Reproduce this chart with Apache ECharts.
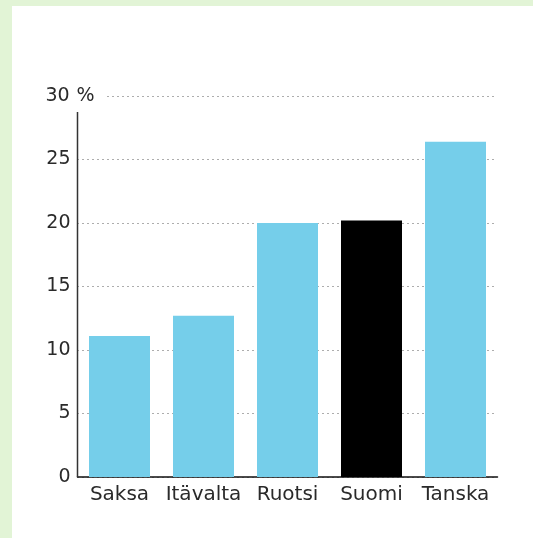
<!DOCTYPE html>
<html>
<head>
<meta charset="utf-8">
<script src="https://cdn.jsdelivr.net/npm/echarts@6/dist/echarts.min.js"></script>
<style>
  html, body { margin: 0; padding: 0; background: #E2F4D6; }
  #wrap { position: absolute; left: 12px; top: 6px; right: 0; bottom: 0; background: #ffffff; }
  #chart { position: absolute; left: 0; top: 0; width: 533px; height: 538px; }
</style>
</head>
<body>
<div id="wrap"></div>
<div id="chart"></div>
<script>
// Countries and their shares (%)
const countries = ['Saksa', 'Itävalta', 'Ruotsi', 'Suomi', 'Tanska'];
const shares = [11.1, 12.7, 20.0, 20.2, 26.4];
const highlight = 'Suomi';
const yTicks = [0, 5, 10, 15, 20, 25, 30];

const BLUE = '#75CEEA';
const INK = '#2a2a2a';
const FONT = '"DejaVu Sans", "Noto Sans", sans-serif';
const GRID = { left: 77.5, right: 35.5, top: 96, bottom: 61 };

const chart = echarts.init(document.getElementById('chart'), null, { renderer: 'canvas' });

chart.setOption({
  backgroundColor: 'transparent',
  animation: false,
  grid: GRID,
  xAxis: {
    type: 'category',
    data: countries,
    axisLine: { show: true, lineStyle: { color: '#111', width: 1.5 } },
    axisTick: { show: false },
    axisLabel: { interval: 0, color: INK, fontFamily: FONT, fontSize: 20, margin: 8 }
  },
  yAxis: {
    type: 'value',
    min: yTicks[0],
    max: yTicks[yTicks.length - 1],
    interval: 5,
    axisLine: { show: false },
    axisTick: { show: false },
    splitLine: { show: true, lineStyle: { color: '#5a5a5a', width: 1, type: [1, 4] } },
    axisLabel: {
      align: 'left',
      margin: 33,
      color: INK,
      fontFamily: FONT,
      fontSize: 19,
      formatter: v => v === 30 ? '{n|30}{p| %}' : '{n|' + v + '}',
      rich: {
        n: { width: 26, align: 'right', fontFamily: FONT, fontSize: 19, color: INK },
        p: { fontFamily: FONT, fontSize: 19, color: INK, backgroundColor: '#fff', padding: [2, 11, 2, 0] }
      }
    }
  },
  series: [{
    type: 'bar',
    barWidth: 61,
    data: countries.map((c, i) => ({
      value: shares[i],
      itemStyle: { color: c === highlight ? '#000000' : BLUE }
    }))
  }]
});

// Vertical axis line, stopping short of the top label
const yBottom = chart.convertToPixel({ yAxisIndex: 0 }, yTicks[0]);
const yTop = chart.convertToPixel({ yAxisIndex: 0 }, yTicks[yTicks.length - 1]);
chart.setOption({
  graphic: [{
    type: 'line',
    shape: { x1: GRID.left, y1: yTop + 16, x2: GRID.left, y2: yBottom },
    style: { stroke: '#333', lineWidth: 1.5 },
    z: 10
  }]
});
</script>
</body>
</html>
